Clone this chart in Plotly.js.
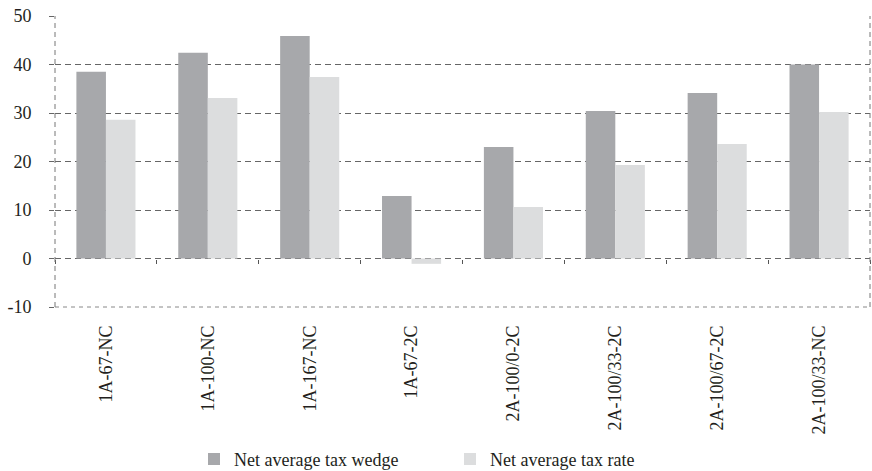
<!DOCTYPE html>
<html>
<head>
<meta charset="utf-8">
<script src="https://cdn.plot.ly/plotly-3.0.1.min.js"></script>
<style>html,body{margin:0;padding:0;background:#fff;}#chart{width:872px;height:471px;}</style>
</head>
<body>
<div id="chart"></div>
<script>
const categories = ["1A-67-NC","1A-100-NC","1A-167-NC","1A-67-2C","2A-100/0-2C","2A-100/33-2C","2A-100/67-2C","2A-100/33-NC"];
const taxWedge = [38.5, 42.4, 45.9, 12.9, 23.0, 30.4, 34.1, 40.0];
const taxRate = [28.6, 33.1, 37.4, -1.1, 10.6, 19.3, 23.6, 30.2];
const seriesNames = ["Net average tax wedge", "Net average tax rate"];
const yTicks = [-10, 0, 10, 20, 30, 40, 50];
const yTickText = ["-10", "0", "10", "20", "30", "40", "50"];

const fontFam = 'Liberation Serif, Times New Roman, serif';
const textColor = '#231f20';

const traces = [
  {type:'bar', name: seriesNames[0], x: categories, y: taxWedge, marker:{color:'#a7a8ab'}, xaxis:'x', yaxis:'y'},
  {type:'bar', name: seriesNames[1], x: categories, y: taxRate, marker:{color:'#dcddde'}, xaxis:'x', yaxis:'y'},
  {type:'scatter', mode:'markers', x: categories, y: categories.map(()=>null), xaxis:'x2', yaxis:'y', showlegend:false, hoverinfo:'skip', marker:{opacity:0}}
];

const layout = {
  width: 872, height: 471,
  margin: {l:55, r:2, t:16, b:164},
  paper_bgcolor:'#fff', plot_bgcolor:'#fff',
  font: {family: fontFam, size: 18, color: textColor},
  barmode: 'group',
  bargap: 0.42,
  bargroupgap: 0,
  showlegend: true,
  legend: {orientation:'h', xref:'container', yref:'container', x:194/872, xanchor:'left', y:0.025, yanchor:'middle',
           entrywidth: 211, entrywidthmode:'pixels',
           font:{family: fontFam, size:18, color:textColor}, traceorder:'normal'},
  xaxis: {
    type:'category', categoryorder:'array', categoryarray: categories,
    range:[-0.5, 7.5], automargin:false,
    showgrid:false, zeroline:false, showline:false,
    ticks:'', tickangle:-90, ticklabelstandoff: 14,
    tickfont:{family: fontFam, size:18, color:textColor}
  },
  xaxis2: {
    type:'category', categoryorder:'array', categoryarray: categories,
    overlaying:'x', matches:'x', anchor:'free', position: 1/6, side:'bottom',
    range:[-0.5, 7.5], automargin:false,
    showgrid:false, zeroline:false, showline:false, showticklabels:false,
    ticks:'outside', ticklen:4, tickwidth:1, tickcolor:'#555', tickson:'boundaries'
  },
  yaxis: {
    range:[-10, 50], tickvals: yTicks, ticktext: yTickText, automargin:false,
    showgrid:true, gridcolor:'#666', gridwidth:1, griddash:'6px,4px',
    zeroline:false, showline:false,
    ticks:'outside', ticklen:5, tickcolor:'#666',
    ticklabelstandoff: 14,
    tickfont:{family: fontFam, size:18, color:textColor}
  },
  shapes: [
    {type:'line', xref:'paper', yref:'paper', x0:0, x1:0, y0:0, y1:1, line:{color:'#777', width:1, dash:'5px,4px'}},
    {type:'line', xref:'paper', yref:'paper', x0:1, x1:1, y0:0, y1:1, line:{color:'#777', width:1, dash:'5px,4px'}},
    {type:'line', xref:'paper', yref:'paper', x0:0, x1:1, y0:0, y1:0, line:{color:'#888', width:1, dash:'4px,4px'}}
  ]
};

Plotly.newPlot('chart', traces, layout, {staticPlot:true, displayModeBar:false});
</script>
</body>
</html>
